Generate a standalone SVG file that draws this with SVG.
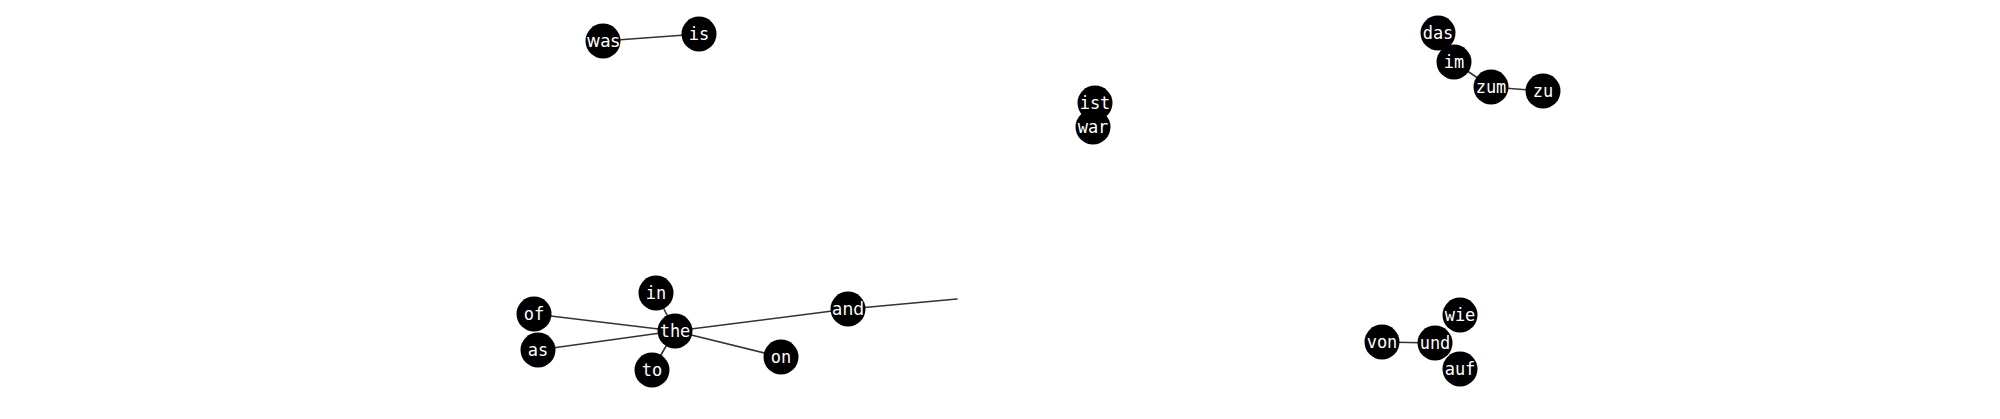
<svg xmlns="http://www.w3.org/2000/svg" width="2000" height="419" viewBox="0 0 2000 419">
<style>
.bg{fill:#ffffff}
.e line{stroke:#333333;stroke-width:1.6;stroke-linecap:round}
.n circle{fill:#000000}
.n text{fill:#ffffff;font-family:"DejaVu Sans Mono",monospace;font-size:17px;text-anchor:middle;dominant-baseline:central}
.n text.p{font-family:"DejaVu Sans",sans-serif}
</style>
<rect class="bg" x="0" y="0" width="2000" height="419"/>
<g id="connectors" class="e">
<line x1="603" y1="41" x2="699" y2="34"/>
<line x1="1454" y1="62" x2="1491" y2="87"/>
<line x1="1491" y1="87" x2="1543" y2="91"/>
<line x1="675" y1="331" x2="656" y2="293"/>
<line x1="675" y1="331" x2="534" y2="314"/>
<line x1="675" y1="331" x2="538" y2="350"/>
<line x1="675" y1="331" x2="652" y2="370"/>
<line x1="675" y1="331" x2="781" y2="357"/>
<line x1="675" y1="331" x2="848" y2="309"/>
<line x1="848" y1="309" x2="957" y2="299"/>
<line x1="1382" y1="342" x2="1435" y2="343"/>
</g>
<g id="node-was" class="n"><circle cx="603" cy="41" r="17.5"/><text class="p" x="603" y="41">was</text></g>
<g id="node-is" class="n"><circle cx="699" cy="34" r="17.5"/><text x="699" y="34">is</text></g>
<g id="node-ist" class="n"><circle cx="1095" cy="103" r="17.5"/><text x="1095" y="103">ist</text></g>
<g id="node-war" class="n"><circle cx="1093" cy="127" r="17.5"/><text x="1093" y="127">war</text></g>
<g id="node-das" class="n"><circle cx="1438" cy="33" r="17.5"/><text x="1438" y="33">das</text></g>
<g id="node-im" class="n"><circle cx="1454" cy="62" r="17.5"/><text x="1454" y="62">im</text></g>
<g id="node-zum" class="n"><circle cx="1491" cy="87" r="17.5"/><text x="1491" y="87">zum</text></g>
<g id="node-zu" class="n"><circle cx="1543" cy="91" r="17.5"/><text x="1543" y="91">zu</text></g>
<g id="node-in" class="n"><circle cx="656" cy="293" r="17.5"/><text x="656" y="293">in</text></g>
<g id="node-of" class="n"><circle cx="534" cy="314" r="17.5"/><text x="534" y="314">of</text></g>
<g id="node-as" class="n"><circle cx="538" cy="350" r="17.5"/><text x="538" y="350">as</text></g>
<g id="node-to" class="n"><circle cx="652" cy="370" r="17.5"/><text x="652" y="370">to</text></g>
<g id="node-on" class="n"><circle cx="781" cy="357" r="17.5"/><text x="781" y="357">on</text></g>
<g id="node-the" class="n"><circle cx="675" cy="331" r="17.5"/><text x="675" y="331">the</text></g>
<g id="node-and" class="n"><circle cx="848" cy="309" r="17.5"/><text class="p" x="848" y="309">and</text></g>
<g id="node-von" class="n"><circle cx="1382" cy="342" r="17.5"/><text x="1382" y="342">von</text></g>
<g id="node-und" class="n"><circle cx="1435" cy="343" r="17.5"/><text x="1435" y="343">und</text></g>
<g id="node-wie" class="n"><circle cx="1460" cy="315" r="17.5"/><text x="1460" y="315">wie</text></g>
<g id="node-auf" class="n"><circle cx="1460" cy="369" r="17.5"/><text x="1460" y="369">auf</text></g>
</svg>
